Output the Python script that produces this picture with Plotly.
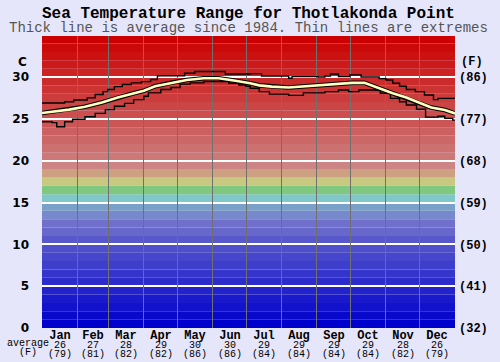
import plotly.graph_objects as go

# ---------------- data ----------------
months = ["Jan", "Feb", "Mar", "Apr", "May", "Jun", "Jul", "Aug", "Sep", "Oct", "Nov", "Dec"]
month_len = [31, 28, 31, 30, 31, 30, 31, 31, 30, 31, 30, 31]
avg_c = [26, 27, 28, 29, 30, 30, 29, 29, 29, 29, 28, 26]
avg_f = [79, 81, 82, 82, 86, 86, 84, 84, 84, 84, 82, 79]

c_ticks = [0, 5, 10, 15, 20, 25, 30]
f_ticks = ["(32)", "(41)", "(50)", "(59)", "(68)", "(77)", "(86)"]

# day-of-year positions and temperatures (deg C)
avg_days = [0, 24, 38, 53, 67, 81, 90, 100, 114, 128, 143, 156, 171, 180, 184, 192, 203, 218,
            233, 246, 261, 274, 285, 293, 302, 310, 322, 333, 344, 356, 365]
avg_vals = [25.7, 26.1, 26.45, 26.95, 27.55, 28.05, 28.35, 28.9, 29.3, 29.65, 29.85, 29.85,
            29.55, 29.4, 29.25, 29.0, 28.85, 28.75, 28.9, 29.05, 29.25, 29.3, 29.3, 28.9,
            28.45, 28.05, 27.55, 26.95, 26.35, 26.05, 25.65]

max_days = [0, 20, 28, 40, 47, 54, 58, 64, 71, 79, 88, 96, 102, 126, 135, 162, 184, 194, 218, 221,
            244, 250, 255, 262, 272, 282, 298, 304, 310, 316, 322, 330, 338, 346, 350, 365]
max_vals = [26.9, 27.05, 27.25, 27.5, 27.9, 28.25, 28.5, 28.85, 29.1, 29.3, 29.45, 29.7, 30.15,
            30.45, 30.65, 30.35, 30.4, 30.1, 29.85, 30.05, 30.0, 30.1, 30.35, 30.05, 30.25, 30.0,
            29.8, 29.65, 29.25, 28.9, 28.5, 28.25, 27.85, 27.3, 27.45, 27.45]

min_days = [0, 9, 13, 20, 27, 38, 47, 56, 64, 73, 81, 90, 94, 105, 114, 122, 131, 143, 165, 174,
            180, 184, 192, 201, 218, 231, 250, 262, 271, 280, 295, 299, 308, 316, 322, 331, 339,
            350, 356, 363, 365]
min_vals = [24.65, 24.55, 24.05, 24.65, 24.95, 25.25, 25.65, 26.1, 26.5, 26.85, 27.3, 27.7, 28.1,
            28.5, 28.75, 29.15, 29.3, 29.45, 29.25, 29.05, 28.9, 28.65, 28.25, 27.95, 27.8, 28.1,
            28.25, 28.45, 28.25, 28.45, 28.4, 28.05, 27.45, 27.05, 26.65, 26.15, 25.2, 25.3, 25.05,
            24.85, 24.85]

# ---------------- styles ----------------
band_colors = []
for v in range(35):
    if v <= 10:
        c = round(v * 8.8)
        band_colors.append(f"rgb({c},{c},204)")
    elif v == 11:
        band_colors.append("#6868cc")
    elif v == 12:
        band_colors.append("#7070cc")
    elif v == 13:
        band_colors.append("#7888cc")
    elif v == 14:
        band_colors.append("#78a0c8")
    elif v == 15:
        band_colors.append("#80c8c8")
    elif v == 16:
        band_colors.append("#80c880")
    elif v == 17:
        band_colors.append("#c8c880")
    elif v == 18:
        band_colors.append("#cca080")
    elif v == 19:
        band_colors.append("#cc8484")
    elif v == 20:
        band_colors.append("#cc7878")
    else:
        g = max(0, round(112 - (v - 21) * 8.6))
        band_colors.append(f"rgb(204,{g},{g})")

bounds = [0]
for m in month_len:
    bounds.append(bounds[-1] + m)
centers = [(bounds[i] + bounds[i + 1]) / 2 for i in range(12)]

YMAX = 34.9
BG = "#e6e6fa"
MONO = "Liberation Mono"
PH = 362 - 36 - 34

fig = go.Figure()

fig.add_trace(go.Scatter(x=max_days, y=max_vals, mode="lines", line=dict(color="black", width=1.4, shape="hv"),
                         hoverinfo="skip"))
fig.add_trace(go.Scatter(x=min_days, y=min_vals, mode="lines", line=dict(color="black", width=1.4, shape="hv"),
                         hoverinfo="skip"))
fig.add_trace(go.Scatter(x=avg_days, y=avg_vals, mode="lines", line=dict(color="black", width=4.6),
                         hoverinfo="skip"))
fig.add_trace(go.Scatter(x=avg_days, y=avg_vals, mode="lines", line=dict(color="#ffffc0", width=2.6),
                         hoverinfo="skip"))
# carrier for the right axis
fig.add_trace(go.Scatter(x=[None], y=[None], yaxis="y2", mode="lines", hoverinfo="skip"))

shapes = []
for v in range(35):
    shapes.append(dict(type="rect", xref="x", yref="y", x0=0, x1=365, y0=v, y1=v + 1,
                       fillcolor=band_colors[v], line=dict(width=0), layer="below"))

annotations = []
for i in range(12):
    txt = (f"<span style='font-size:12px'><b>{months[i]}</b></span><br>"
           f"<span style='font-size:10px'>{avg_c[i]}</span><br>"
           f"<span style='font-size:10px'>({avg_f[i]})</span>")
    annotations.append(dict(x=centers[i], y=0.5 / PH, yref="paper", xref="x",
                            text=txt, showarrow=False, yanchor="top", borderpad=0,
                            font=dict(family=MONO, size=7, color="black")))

annotations += [
    dict(x=-14 / 427, y=-8.5 / PH, xref="paper", yref="paper",
         text="<span style='font-size:10px'>average</span><br><span style='font-size:10px'>(F)</span>",
         showarrow=False, xanchor="center", yanchor="top", borderpad=0,
         font=dict(family=MONO, size=7, color="black")),
    dict(x=-13 / 427, y=1 - 26 / PH, xref="paper", yref="paper", text="<b>C</b>", showarrow=False,
         xanchor="right", yanchor="middle", font=dict(family="DejaVu Sans", size=12, color="black")),
    dict(x=1 + 18 / 427, y=1 - 26 / PH, xref="paper", yref="paper", text="<b>(F)</b>", showarrow=False,
         xanchor="center", yanchor="middle", font=dict(family=MONO, size=12, color="black")),
    dict(x=0.5, y=1 + 22 / PH, xref="paper", yref="paper", xanchor="center", yanchor="middle",
         text="<b>Sea Temperature Range for Thotlakonda Point</b>", showarrow=False,
         font=dict(family=MONO, size=16, color="black")),
    dict(x=0.5, y=1 + 8 / PH, xref="paper", yref="paper", xanchor="center", yanchor="middle",
         text="Thick line is average since 1984. Thin lines are extremes", showarrow=False,
         font=dict(family=MONO, size=14, color="#555555")),
]

fig.update_layout(
    width=500, height=362,
    margin=dict(l=35, r=38, t=36, b=34),
    paper_bgcolor=BG, plot_bgcolor=BG,
    showlegend=False,
    shapes=shapes,
    annotations=annotations,
    xaxis=dict(range=[0, 365], tickvals=bounds[1:-1], showticklabels=False, ticks="",
               showgrid=True, gridcolor="#707070", gridwidth=1, zeroline=False, showline=False,
               fixedrange=True),
    yaxis=dict(range=[0, YMAX], tickvals=c_ticks, ticktext=[str(t) for t in c_ticks],
               showgrid=False, zeroline=False, showline=False, ticks="",
               ticklabelstandoff=12,
               tickfont=dict(family="DejaVu Sans", size=12, color="black", weight="bold"),
               minor=dict(tickvals=c_ticks[1:], showgrid=True, gridcolor="white", gridwidth=2, ticks=""),
               fixedrange=True),
    yaxis2=dict(range=[0, YMAX], overlaying="y", side="right", tickvals=c_ticks, ticktext=f_ticks,
                showgrid=False, zeroline=False, showline=False, ticks="", ticklabelstandoff=3,
                tickfont=dict(family=MONO, size=12, color="black", weight="bold"),
                fixedrange=True),
)

fig.write_html("out.html", config={"displayModeBar": False},
               post_script="document.body.style.margin='0px';document.body.style.overflow='hidden';")
